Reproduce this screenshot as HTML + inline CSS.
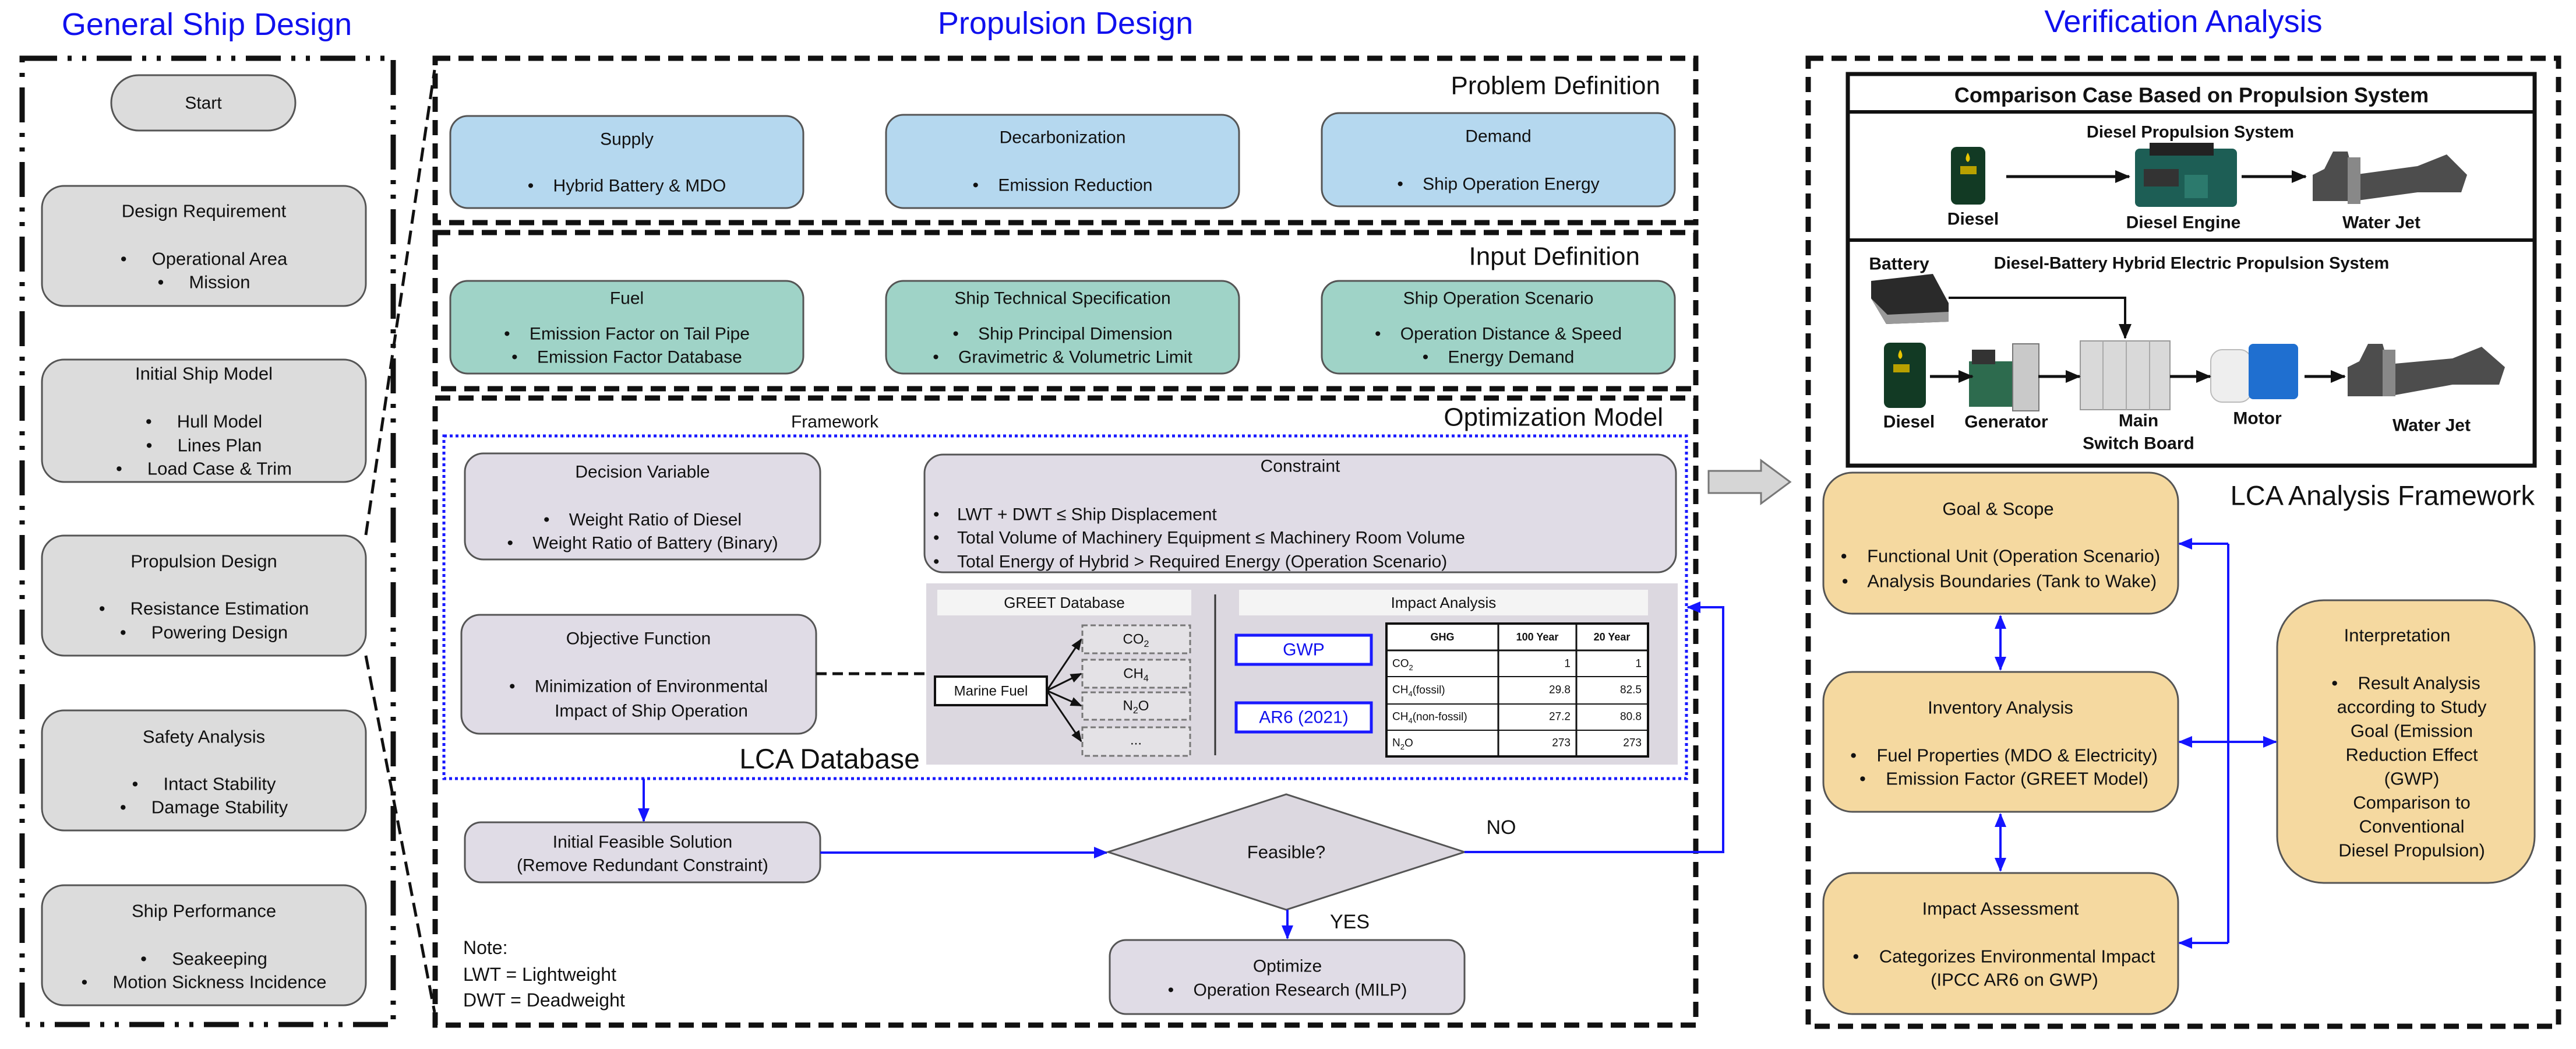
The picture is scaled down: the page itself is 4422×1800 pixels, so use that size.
<!DOCTYPE html>
<html><head><meta charset="utf-8">
<style>
html,body{margin:0;padding:0;background:#fff;}
svg{display:block;}
text{font-family:"Liberation Sans",Arial,sans-serif;fill:#111;dominant-baseline:central;white-space:pre;}
</style></head>
<body>
<svg width="4422" height="1800" viewBox="0 0 4422 1800" xmlns="http://www.w3.org/2000/svg" xml:space="preserve">
<defs>
<marker id="abig" markerWidth="24" markerHeight="24" refX="22" refY="12" orient="auto-start-reverse" markerUnits="userSpaceOnUse"><path d="M0,2 L24,12 L0,22 z" fill="#1515ff"/></marker>
<marker id="ak" markerWidth="26" markerHeight="26" refX="24" refY="13" orient="auto" markerUnits="userSpaceOnUse"><path d="M0,2 L26,13 L0,24 z" fill="#111"/></marker>
<marker id="aks" markerWidth="20" markerHeight="20" refX="18" refY="10" orient="auto" markerUnits="userSpaceOnUse"><path d="M0,2 L20,10 L0,18 z" fill="#111"/></marker>
</defs>

<!-- Titles -->
<text x="355" y="42" font-size="54" text-anchor="middle" style="fill:#1010ee">General Ship Design</text>
<text x="1829" y="40" font-size="54" text-anchor="middle" style="fill:#1010ee">Propulsion Design</text>
<text x="3748" y="37" font-size="54" text-anchor="middle" style="fill:#1010ee">Verification Analysis</text>

<!-- Left box -->
<rect x="38" y="100" width="637" height="1658" fill="none" stroke="#111" stroke-width="9" stroke-dasharray="60 18 7 18 7 18"/>
<rect x="191" y="129" width="316" height="95" rx="47" fill="#dcdcdc" stroke="#555" stroke-width="3"/>
<text x="349" y="177" font-size="30" text-anchor="middle">Start</text>
<g font-size="31" text-anchor="middle">
<rect x="72" y="319" width="556" height="206" rx="38" fill="#dcdcdc" stroke="#555" stroke-width="3"/>
<text x="350" y="362">Design Requirement</text>
<text x="350" y="444">•     Operational Area</text>
<text x="350" y="484">•     Mission</text>
<rect x="72" y="617" width="556" height="210" rx="38" fill="#dcdcdc" stroke="#555" stroke-width="3"/>
<text x="350" y="641">Initial Ship Model</text>
<text x="350" y="723">•     Hull Model</text>
<text x="350" y="764">•     Lines Plan</text>
<text x="350" y="804">•     Load Case &amp; Trim</text>
<rect x="72" y="919" width="556" height="206" rx="38" fill="#dcdcdc" stroke="#555" stroke-width="3"/>
<text x="350" y="963">Propulsion Design</text>
<text x="350" y="1044">•     Resistance Estimation</text>
<text x="350" y="1085">•     Powering Design</text>
<rect x="72" y="1219" width="556" height="206" rx="38" fill="#dcdcdc" stroke="#555" stroke-width="3"/>
<text x="350" y="1264">Safety Analysis</text>
<text x="350" y="1345">•     Intact Stability</text>
<text x="350" y="1385">•     Damage Stability</text>
<rect x="72" y="1519" width="556" height="206" rx="38" fill="#dcdcdc" stroke="#555" stroke-width="3"/>
<text x="350" y="1563">Ship Performance</text>
<text x="350" y="1645">•     Seakeeping</text>
<text x="350" y="1685">•     Motion Sickness Incidence</text>
</g>

<!-- slanted connectors -->
<line x1="628" y1="918" x2="746" y2="120" stroke="#111" stroke-width="5" stroke-dasharray="24 12"/>
<line x1="628" y1="1125" x2="746" y2="1737" stroke="#111" stroke-width="5" stroke-dasharray="24 12"/>

<!-- Propulsion dashed boxes -->
<g fill="none" stroke="#111" stroke-width="9" stroke-dasharray="26 14">
<rect x="747" y="100" width="2164" height="282"/>
<rect x="747" y="399" width="2164" height="268"/>
<rect x="747" y="683" width="2164" height="1076"/>
</g>
<text x="2850" y="147" font-size="44" text-anchor="end">Problem Definition</text>
<text x="2815" y="440" font-size="44" text-anchor="end">Input Definition</text>
<text x="2855" y="716" font-size="44" text-anchor="end">Optimization Model</text>

<g font-size="30" text-anchor="middle">
<rect x="773" y="199" width="606" height="158" rx="30" fill="#b5d8ef" stroke="#555" stroke-width="3"/>
<text x="1076" y="239">Supply</text><text x="1076" y="319">•    Hybrid Battery &amp; MDO</text>
<rect x="1521" y="197" width="606" height="160" rx="30" fill="#b5d8ef" stroke="#555" stroke-width="3"/>
<text x="1824" y="236">Decarbonization</text><text x="1824" y="318">•    Emission Reduction</text>
<rect x="2269" y="194" width="606" height="160" rx="30" fill="#b5d8ef" stroke="#555" stroke-width="3"/>
<text x="2572" y="234">Demand</text><text x="2572" y="316">•    Ship Operation Energy</text>

<rect x="773" y="482" width="606" height="159" rx="30" fill="#9fd3c7" stroke="#555" stroke-width="3"/>
<text x="1076" y="512">Fuel</text><text x="1076" y="573">•    Emission Factor on Tail Pipe</text><text x="1076" y="613">•    Emission Factor Database</text>
<rect x="1521" y="482" width="606" height="159" rx="30" fill="#9fd3c7" stroke="#555" stroke-width="3"/>
<text x="1824" y="512">Ship Technical Specification</text><text x="1824" y="573">•    Ship Principal Dimension</text><text x="1824" y="613">•    Gravimetric &amp; Volumetric Limit</text>
<rect x="2269" y="482" width="606" height="159" rx="30" fill="#9fd3c7" stroke="#555" stroke-width="3"/>
<text x="2572" y="512">Ship Operation Scenario</text><text x="2572" y="573">•    Operation Distance &amp; Speed</text><text x="2572" y="613">•    Energy Demand</text>
</g>

<!-- Optimization -->
<text x="1433" y="724" font-size="30" text-anchor="middle">Framework</text>
<rect x="762" y="748" width="2133" height="588" fill="none" stroke="#1a1aff" stroke-width="5" stroke-dasharray="5 5"/>
<g font-size="30" text-anchor="middle">
<rect x="798" y="778" width="610" height="182" rx="32" fill="#e0dce6" stroke="#555" stroke-width="3"/>
<text x="1103" y="810">Decision Variable</text>
<text x="1103" y="892">•    Weight Ratio of Diesel</text>
<text x="1103" y="932">•    Weight Ratio of Battery (Binary)</text>
<rect x="1587" y="780" width="1290" height="202" rx="32" fill="#e0dce6" stroke="#555" stroke-width="3"/>
<text x="2232" y="800">Constraint</text>
<rect x="792" y="1055" width="609" height="204" rx="32" fill="#e0dce6" stroke="#555" stroke-width="3"/>
<text x="1096" y="1096">Objective Function</text>
<text x="1096" y="1178">•    Minimization of Environmental</text>
<text x="1118" y="1220">Impact of Ship Operation</text>
</g>
<g font-size="30">
<text x="1602" y="883">•</text><text x="1643" y="883">LWT + DWT ≤ Ship Displacement</text>
<text x="1602" y="923">•</text><text x="1643" y="923">Total Volume of Machinery Equipment ≤ Machinery Room Volume</text>
<text x="1602" y="964">•</text><text x="1643" y="964">Total Energy of Hybrid &gt; Required Energy (Operation Scenario)</text>
</g>
<line x1="1401" y1="1156" x2="1590" y2="1156" stroke="#111" stroke-width="5" stroke-dasharray="18 10"/>
<rect x="1590" y="1001" width="1290" height="311" fill="#dcd8e0"/>
<rect x="1609" y="1012" width="436" height="44" fill="#f4f4f4"/>
<text x="1827" y="1034" font-size="26" text-anchor="middle">GREET Database</text>
<rect x="2127" y="1012" width="702" height="44" fill="#f4f4f4"/>
<text x="2478" y="1034" font-size="26" text-anchor="middle">Impact Analysis</text>
<line x1="2086" y1="1020" x2="2086" y2="1296" stroke="#333" stroke-width="3"/>
<rect x="1605" y="1161" width="192" height="49" fill="#fff" stroke="#111" stroke-width="4"/>
<text x="1701" y="1186" font-size="24" text-anchor="middle">Marine Fuel</text>
<g stroke="#111" stroke-width="3" marker-end="url(#aks)">
<line x1="1797" y1="1185" x2="1856" y2="1097"/>
<line x1="1797" y1="1185" x2="1856" y2="1156"/>
<line x1="1797" y1="1185" x2="1856" y2="1211"/>
<line x1="1797" y1="1185" x2="1856" y2="1272"/>
</g>
<g fill="#e4e2e6" stroke="#777" stroke-width="3" stroke-dasharray="9 5">
<rect x="1858" y="1073" width="185" height="48"/>
<rect x="1858" y="1132" width="185" height="48"/>
<rect x="1858" y="1188" width="185" height="47"/>
<rect x="1858" y="1248" width="185" height="49"/>
</g>
<g font-size="24" text-anchor="middle">
<text x="1950" y="1097">CO<tspan font-size="16" dy="8">2</tspan></text>
<text x="1950" y="1156">CH<tspan font-size="16" dy="8">4</tspan></text>
<text x="1950" y="1211">N<tspan font-size="16" dy="8">2</tspan><tspan dy="-8">O</tspan></text>
<text x="1950" y="1270">...</text>
</g>
<rect x="2122" y="1090" width="232" height="50" fill="#fff" stroke="#1a1aff" stroke-width="5"/>
<text x="2238" y="1115" font-size="30" text-anchor="middle" style="fill:#1010ee">GWP</text>
<rect x="2122" y="1206" width="232" height="50" fill="#fff" stroke="#1a1aff" stroke-width="5"/>
<text x="2238" y="1231" font-size="30" text-anchor="middle" style="fill:#1010ee">AR6 (2021)</text>
<rect x="2380" y="1070" width="449" height="228" fill="#fff" stroke="#111" stroke-width="4"/>
<g stroke="#111" stroke-width="2">
<line x1="2572" y1="1070" x2="2572" y2="1298" stroke-width="3"/>
<line x1="2706" y1="1070" x2="2706" y2="1298" stroke-width="3"/>
<line x1="2380" y1="1116" x2="2829" y2="1116" stroke-width="3"/>
<line x1="2380" y1="1161" x2="2829" y2="1161"/>
<line x1="2380" y1="1208" x2="2829" y2="1208"/>
<line x1="2380" y1="1253" x2="2829" y2="1253"/>
</g>
<g font-size="18" font-weight="bold" text-anchor="middle">
<text x="2476" y="1093" font-weight="bold">GHG</text><text x="2639" y="1093" font-weight="bold">100 Year</text><text x="2767" y="1093" font-weight="bold">20 Year</text>
</g>
<g font-size="19">
<text x="2390" y="1139">CO<tspan font-size="13" dy="6">2</tspan></text>
<text x="2390" y="1184">CH<tspan font-size="13" dy="6">4</tspan><tspan dy="-6">(fossil)</tspan></text>
<text x="2390" y="1230">CH<tspan font-size="13" dy="6">4</tspan><tspan dy="-6">(non-fossil)</tspan></text>
<text x="2390" y="1275">N<tspan font-size="13" dy="6">2</tspan><tspan dy="-6">O</tspan></text>
</g>
<g font-size="19" text-anchor="end">
<text x="2696" y="1139">1</text><text x="2818" y="1139">1</text>
<text x="2696" y="1184">29.8</text><text x="2818" y="1184">82.5</text>
<text x="2696" y="1230">27.2</text><text x="2818" y="1230">80.8</text>
<text x="2696" y="1275">273</text><text x="2818" y="1275">273</text>
</g>
<text x="1424" y="1303" font-size="48" text-anchor="middle">LCA Database</text>

<!-- flow -->
<line x1="1105" y1="1336" x2="1105" y2="1409" stroke="#1515ff" stroke-width="4" marker-end="url(#abig)"/>
<rect x="798" y="1411" width="610" height="103" rx="28" fill="#e0dce6" stroke="#555" stroke-width="3"/>
<text x="1103" y="1445" font-size="30" text-anchor="middle">Initial Feasible Solution</text>
<text x="1103" y="1485" font-size="30" text-anchor="middle">(Remove Redundant Constraint)</text>
<line x1="1408" y1="1463" x2="1900" y2="1463" stroke="#1515ff" stroke-width="4" marker-end="url(#abig)"/>
<polygon points="1902,1462 2208,1363 2514,1462 2208,1561" fill="#dcd8e0" stroke="#555" stroke-width="3"/>
<text x="2208" y="1462" font-size="31" text-anchor="middle">Feasible?</text>
<polyline points="2514,1462 2958,1462 2958,1042 2897,1042" fill="none" stroke="#1515ff" stroke-width="4" marker-end="url(#abig)"/>
<text x="2577" y="1420" font-size="34" text-anchor="middle">NO</text>
<line x1="2210" y1="1561" x2="2210" y2="1610" stroke="#1515ff" stroke-width="4" marker-end="url(#abig)"/>
<text x="2317" y="1582" font-size="34" text-anchor="middle">YES</text>
<rect x="1905" y="1613" width="609" height="127" rx="28" fill="#e0dce6" stroke="#555" stroke-width="3"/>
<text x="2210" y="1658" font-size="30" text-anchor="middle">Optimize</text>
<text x="2210" y="1699" font-size="30" text-anchor="middle">•    Operation Research (MILP)</text>
<g font-size="32"><text x="795" y="1626">Note:</text><text x="795" y="1672">LWT = Lightweight</text><text x="795" y="1716">DWT = Deadweight</text></g>

<!-- gray big arrow -->
<polygon points="2933,808 3023,808 3023,790 3073,827 3023,864 3023,846 2933,846" fill="#d6d6d6" stroke="#777" stroke-width="3"/>

<!-- Right box -->
<rect x="3104" y="100" width="1288" height="1661" fill="none" stroke="#111" stroke-width="9" stroke-dasharray="26 14"/>
<rect x="3172" y="127" width="1179" height="672" fill="#fff" stroke="#111" stroke-width="7"/>
<line x1="3172" y1="192" x2="4351" y2="192" stroke="#111" stroke-width="6"/>
<line x1="3172" y1="412" x2="4351" y2="412" stroke="#111" stroke-width="6"/>
<g font-weight="bold" text-anchor="middle">
<text x="3762" y="163" font-size="36" font-weight="bold">Comparison Case Based on Propulsion System</text>
<text x="3760" y="227" font-size="29" font-weight="bold">Diesel Propulsion System</text>
<text x="3762" y="452" font-size="29" font-weight="bold">Diesel-Battery Hybrid Electric Propulsion System</text>
<text x="3387" y="376" font-size="30" font-weight="bold">Diesel</text>
<text x="3748" y="382" font-size="30" font-weight="bold">Diesel Engine</text>
<text x="4088" y="382" font-size="30" font-weight="bold">Water Jet</text>
<text x="3260" y="453" font-size="30" font-weight="bold">Battery</text>
<text x="3277" y="724" font-size="30" font-weight="bold">Diesel</text>
<text x="3444" y="724" font-size="30" font-weight="bold">Generator</text>
<text x="3671" y="722" font-size="30" font-weight="bold">Main</text>
<text x="3671" y="761" font-size="30" font-weight="bold">Switch Board</text>
<text x="3875" y="718" font-size="30" font-weight="bold">Motor</text>
<text x="4174" y="730" font-size="30" font-weight="bold">Water Jet</text>
</g>
<!-- images approximations -->
<g>
<rect x="3349" y="252" width="59" height="99" rx="10" fill="#123a24"/>
<path d="M3378,262 q-7,12 0,16 q7,-4 0,-16z" fill="#e8c500"/>
<rect x="3365" y="285" width="28" height="14" fill="#b8a000"/>
<rect x="3665" y="255" width="175" height="100" rx="8" fill="#1d5e55"/>
<rect x="3690" y="245" width="110" height="22" fill="#222"/>
<rect x="3680" y="290" width="60" height="30" fill="#333"/>
<rect x="3750" y="300" width="40" height="40" fill="#2c7a6d"/>
<path d="M3970,345 L3970,300 L3990,290 L4005,260 L4030,260 L4040,300 L4150,285 L4200,265 L4235,300 L4225,330 L4150,330 L4040,345 z" fill="#4d4d4d"/>
<rect x="4030" y="270" width="22" height="80" fill="#888"/>
<path d="M3212,482 L3318,470 L3345,520 L3345,552 L3238,556 L3212,512z" fill="#2a2a2a"/>
<path d="M3212,512 L3238,556 L3345,552 L3345,535 L3240,540z" fill="#999"/>
<rect x="3234" y="588" width="72" height="112" rx="10" fill="#123a24"/>
<path d="M3262,600 q-7,12 0,16 q7,-4 0,-16z" fill="#e8c500"/>
<rect x="3250" y="625" width="28" height="14" fill="#b8a000"/>
<rect x="3380" y="620" width="80" height="78" fill="#2d6b4e"/>
<rect x="3455" y="590" width="45" height="115" fill="#c9c9c9" stroke="#777" stroke-width="2"/>
<rect x="3385" y="600" width="40" height="25" fill="#333"/>
<rect x="3571" y="585" width="154" height="118" fill="#d9d9d9" stroke="#999" stroke-width="2"/>
<line x1="3610" y1="585" x2="3610" y2="703" stroke="#aaa" stroke-width="2"/>
<line x1="3650" y1="585" x2="3650" y2="703" stroke="#aaa" stroke-width="2"/>
<line x1="3690" y1="585" x2="3690" y2="703" stroke="#aaa" stroke-width="2"/>
<rect x="3795" y="600" width="70" height="90" rx="20" fill="#eeeeee" stroke="#bbb" stroke-width="2"/>
<rect x="3860" y="590" width="85" height="95" rx="8" fill="#1f6fd0"/>
<path d="M4030,680 L4030,630 L4050,620 L4065,590 L4090,590 L4100,625 L4210,615 L4260,595 L4300,630 L4290,660 L4210,660 L4100,680 z" fill="#4d4d4d"/>
<rect x="4090" y="600" width="22" height="80" fill="#888"/>
</g>
<g stroke="#111" stroke-width="5">
<line x1="3444" y1="303" x2="3655" y2="303" marker-end="url(#ak)"/>
<line x1="3848" y1="303" x2="3958" y2="303" marker-end="url(#ak)"/>
<line x1="3313" y1="646" x2="3386" y2="646" marker-end="url(#ak)"/>
<line x1="3499" y1="646" x2="3570" y2="646" marker-end="url(#ak)"/>
<line x1="3725" y1="646" x2="3794" y2="646" marker-end="url(#ak)"/>
<line x1="3956" y1="646" x2="4025" y2="646" marker-end="url(#ak)"/>
<polyline points="3345,511 3648,511 3648,580" fill="none" stroke-width="4" marker-end="url(#ak)"/>
</g>

<text x="4351" y="850" font-size="47" text-anchor="end">LCA Analysis Framework</text>
<g font-size="31" text-anchor="middle">
<rect x="3130" y="811" width="609" height="242" rx="50" fill="#f5d9a0" stroke="#555" stroke-width="3"/>
<text x="3430" y="873">Goal &amp; Scope</text>
<text x="3434" y="954">•    Functional Unit (Operation Scenario)</text>
<text x="3432" y="997">•    Analysis Boundaries (Tank to Wake)</text>
<rect x="3130" y="1153" width="609" height="240" rx="50" fill="#f5d9a0" stroke="#555" stroke-width="3"/>
<text x="3434" y="1214">Inventory Analysis</text>
<text x="3440" y="1296">•    Fuel Properties (MDO &amp; Electricity)</text>
<text x="3440" y="1336">•    Emission Factor (GREET Model)</text>
<rect x="3130" y="1498" width="609" height="242" rx="50" fill="#f5d9a0" stroke="#555" stroke-width="3"/>
<text x="3434" y="1559">Impact Assessment</text>
<text x="3440" y="1641">•    Categorizes Environmental Impact</text>
<text x="3458" y="1681">(IPCC AR6 on GWP)</text>
<rect x="3909" y="1030" width="442" height="485" rx="80" fill="#f5d9a0" stroke="#555" stroke-width="3"/>
<text x="4115" y="1090">Interpretation</text>
<text x="4130" y="1172">•    Result Analysis</text>
<text x="4140" y="1213">according to Study</text>
<text x="4140" y="1254">Goal (Emission</text>
<text x="4140" y="1295">Reduction Effect</text>
<text x="4140" y="1336">(GWP)</text>
<text x="4140" y="1377">Comparison to</text>
<text x="4140" y="1418">Conventional</text>
<text x="4140" y="1459">Diesel Propulsion)</text>
</g>
<g stroke="#1515ff" stroke-width="4" fill="none">
<line x1="3825" y1="933" x2="3825" y2="1618"/>
<line x1="3825" y1="933" x2="3741" y2="933" marker-end="url(#abig)"/>
<line x1="3825" y1="1273" x2="3741" y2="1273" marker-end="url(#abig)"/>
<line x1="3825" y1="1618" x2="3741" y2="1618" marker-end="url(#abig)"/>
<line x1="3825" y1="1273" x2="3907" y2="1273" marker-end="url(#abig)"/>
<line x1="3434" y1="1057" x2="3434" y2="1149" marker-start="url(#abig)" marker-end="url(#abig)"/>
<line x1="3434" y1="1397" x2="3434" y2="1494" marker-start="url(#abig)" marker-end="url(#abig)"/>
</g>
</svg>
</body></html>
